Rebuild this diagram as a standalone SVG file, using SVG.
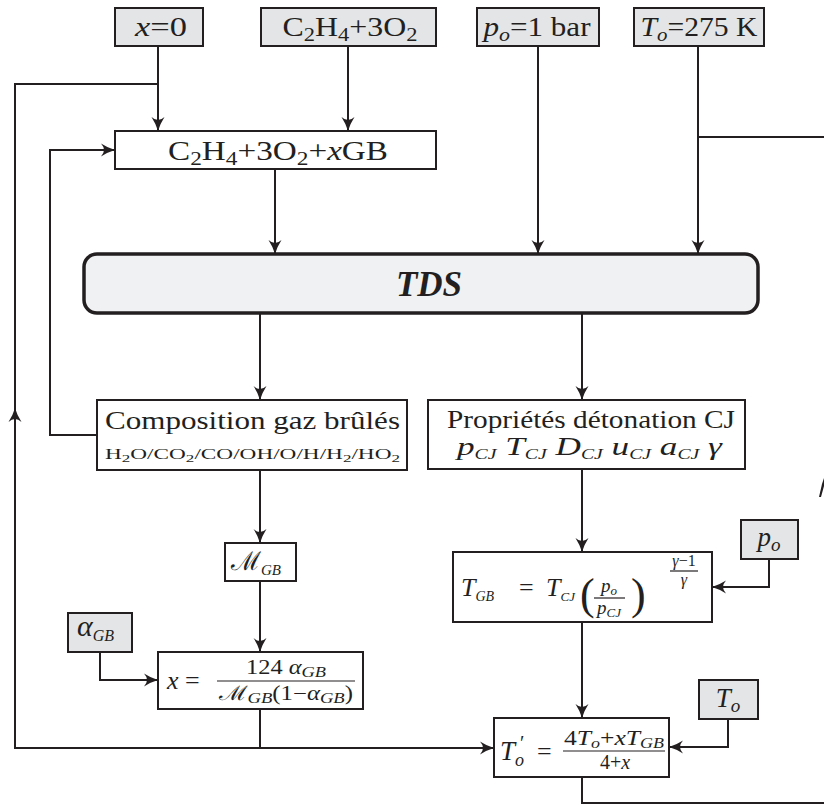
<svg xmlns="http://www.w3.org/2000/svg" width="824" height="809" viewBox="0 0 824 809" font-family="'Liberation Serif','DejaVu Serif',serif" font-size="26">
<style>
.box{fill:#ffffff;stroke:#231f20;stroke-width:2}
.in{fill:#e4e5e7;stroke:#231f20;stroke-width:2}
.tds{fill:#f0f1f2;stroke:#231f20;stroke-width:3.5}
.c{fill:none;stroke:#231f20;stroke-width:2}
.fl{stroke:#231f20;stroke-width:1.2}
text{fill:#231f20}
.i{font-style:italic}
.m{text-anchor:middle}
</style>
<defs>
<marker id="ah" viewBox="-16 -8 18 16" refX="0" refY="0" markerWidth="18" markerHeight="16" markerUnits="userSpaceOnUse" orient="auto">
<path d="M0,0 Q-7,-2 -14,-6.5 Q-8,0 -14,6.5 Q-7,2 0,0 Z" fill="#231f20"/>
</marker>
</defs>
<g id="connectors">
<path class="c" d="M158,46 V131" marker-end="url(#ah)"/>
<path class="c" d="M158,84 H15 V748 H494" marker-end="url(#ah)"/>
<path class="c" d="M15,440 V408" marker-end="url(#ah)"/>
<path class="c" d="M348,46 V131" marker-end="url(#ah)"/>
<path class="c" d="M275,169 V254" marker-end="url(#ah)"/>
<path class="c" d="M538,46 V254" marker-end="url(#ah)"/>
<path class="c" d="M698,46 V254" marker-end="url(#ah)"/>
<path class="c" d="M698,137 H824"/>
<path class="c" d="M260,313 V400" marker-end="url(#ah)"/>
<path class="c" d="M582,313 V400" marker-end="url(#ah)"/>
<path class="c" d="M97,435 H50 V150 H115" marker-end="url(#ah)"/>
<path class="c" d="M260,470 V543" marker-end="url(#ah)"/>
<path class="c" d="M260,581 V652" marker-end="url(#ah)"/>
<path class="c" d="M100,652 V680 H158" marker-end="url(#ah)"/>
<path class="c" d="M260,709 V748"/>
<path class="c" d="M582,469 V552" marker-end="url(#ah)"/>
<path class="c" d="M769,559 V587 H712" marker-end="url(#ah)"/>
<path class="c" d="M582,622 V718" marker-end="url(#ah)"/>
<path class="c" d="M728,719 V747 H669" marker-end="url(#ah)"/>
<path class="c" d="M582,777 V803 H824"/>
<path d="M819,497 L822,484 L824,478 L824,486 L821,497 Z" fill="#231f20"/>
</g>
<g id="in-x0">
<rect class="in" x="115" y="8" width="88" height="38"/>
<text class="m" x="161" y="36" font-size="27" textLength="52" lengthAdjust="spacingAndGlyphs"><tspan class="i">x</tspan>=0</text>
</g>
<g id="in-fuel">
<rect class="in" x="261" y="8" width="175" height="38"/>
<text class="m" x="350" y="36" font-size="27" textLength="135" lengthAdjust="spacingAndGlyphs">C<tspan font-size="19" dy="5">2</tspan><tspan dy="-5">H</tspan><tspan font-size="19" dy="5">4</tspan><tspan dy="-5">+3O</tspan><tspan font-size="19" dy="5">2</tspan></text>
</g>
<g id="in-po">
<rect class="in" x="477" y="8" width="122" height="38"/>
<text class="m" x="537" y="36" font-size="27" textLength="107" lengthAdjust="spacingAndGlyphs"><tspan class="i">p</tspan><tspan class="i" font-size="19" dy="5">o</tspan><tspan dy="-5">=1 bar</tspan></text>
</g>
<g id="in-To">
<rect class="in" x="634" y="8" width="130" height="38"/>
<text class="m" x="699" y="36" font-size="27" textLength="117" lengthAdjust="spacingAndGlyphs"><tspan class="i">T</tspan><tspan class="i" font-size="19" dy="5">o</tspan><tspan dy="-5">=275 K</tspan></text>
</g>
<g id="mix">
<rect class="box" x="115" y="131" width="321" height="38"/>
<text class="m" x="278" y="160" font-size="27" textLength="220" lengthAdjust="spacingAndGlyphs">C<tspan font-size="19" dy="5">2</tspan><tspan dy="-5">H</tspan><tspan font-size="19" dy="5">4</tspan><tspan dy="-5">+3O</tspan><tspan font-size="19" dy="5">2</tspan><tspan dy="-5">+</tspan><tspan class="i">x</tspan>GB</text>
</g>
<g id="tds">
<rect class="tds" x="84" y="254" width="674" height="59" rx="13" ry="13"/>
<text class="m" x="429" y="296" font-size="35" font-weight="bold" font-style="italic">TDS</text>
</g>
<g id="composition">
<rect class="box" x="97" y="400" width="310" height="70"/>
<text x="105" y="429" textLength="295" lengthAdjust="spacingAndGlyphs">Composition gaz brûlés</text>
<text x="105" y="459" font-size="15" textLength="295" lengthAdjust="spacingAndGlyphs">H<tspan font-size="11" dy="3">2</tspan><tspan dy="-3">O/CO</tspan><tspan font-size="11" dy="3">2</tspan><tspan dy="-3">/CO/OH/O/H/H</tspan><tspan font-size="11" dy="3">2</tspan><tspan dy="-3">/HO</tspan><tspan font-size="11" dy="3">2</tspan></text>
</g>
<g id="properties">
<rect class="box" x="428" y="400" width="317" height="69"/>
<text x="447" y="428" textLength="288" lengthAdjust="spacingAndGlyphs">Propriétés détonation CJ</text>
<text x="457" y="455" class="i" font-size="25" textLength="265" lengthAdjust="spacingAndGlyphs">p<tspan font-size="14" dy="4">CJ</tspan><tspan dy="-4"> T</tspan><tspan font-size="14" dy="4">CJ</tspan><tspan dy="-4"> D</tspan><tspan font-size="14" dy="4">CJ</tspan><tspan dy="-4"> u</tspan><tspan font-size="14" dy="4">CJ</tspan><tspan dy="-4"> a</tspan><tspan font-size="14" dy="4">CJ</tspan><tspan dy="-4"> γ</tspan></text>
</g>
<g id="mgb">
<rect class="box" x="225" y="543" width="71" height="38"/>
<text x="231" y="570" font-family="'DejaVu Serif',serif" font-size="26">ℳ<tspan class="i" font-size="15" dy="5" font-family="'Liberation Serif',serif">GB</tspan></text>
</g>
<g id="alpha">
<rect class="in" x="68" y="613" width="64" height="39"/>
<text x="77" y="636" class="i" font-size="30">α<tspan font-size="16" dy="5">GB</tspan></text>
</g>
<g id="xcalc">
<rect class="box" x="158" y="652" width="205" height="57"/>
<text x="167" y="689"><tspan class="i">x</tspan> =</text>
<text class="m" x="286" y="674" font-size="20" textLength="80" lengthAdjust="spacingAndGlyphs">124 <tspan class="i">α</tspan><tspan class="i" font-size="15" dy="3">GB</tspan></text>
<line class="fl" x1="217" y1="681" x2="355" y2="681"/>
<text class="m" x="286" y="700" font-size="20" textLength="134" lengthAdjust="spacingAndGlyphs"><tspan font-family="'DejaVu Serif',serif">ℳ</tspan><tspan class="i" font-size="15" dy="3">GB</tspan><tspan dy="-3">(1−</tspan><tspan class="i">α</tspan><tspan class="i" font-size="15" dy="3">GB</tspan><tspan dy="-3">)</tspan></text>
</g>
<g id="tgb">
<rect class="box" x="453" y="552" width="259" height="70"/>
<text x="461" y="596" class="i">T<tspan font-size="14" dy="5">GB</tspan></text>
<text x="519" y="596">=</text>
<text x="546" y="596" class="i">T<tspan font-size="13" dy="5">CJ</tspan></text>
<text x="580" y="609" font-size="44">(</text>
<text class="m i" x="609" y="592" font-size="19">p<tspan font-size="13" dy="3">o</tspan></text>
<line class="fl" x1="594" y1="598" x2="625" y2="598"/>
<text class="m i" x="609" y="614" font-size="19">p<tspan font-size="13" dy="3">CJ</tspan></text>
<text x="631" y="609" font-size="44">)</text>
<text class="m i" x="684" y="566" font-size="16">γ<tspan font-style="normal">−1</tspan></text>
<line class="fl" x1="670" y1="571" x2="698" y2="571"/>
<text class="m i" x="684" y="585" font-size="16">γ</text>
</g>
<g id="in-po2">
<rect class="in" x="741" y="520" width="57" height="39"/>
<text class="m i" x="769" y="546" font-size="27">p<tspan font-size="19" dy="5">o</tspan></text>
</g>
<g id="tprime">
<rect class="box" x="494" y="718" width="175" height="59"/>
<text x="500" y="760" class="i" font-size="27">T</text>
<text x="520" y="750" font-size="20">′</text>
<text x="515" y="766" class="i" font-size="18">o</text>
<text x="537" y="760">=</text>
<text class="m" x="614" y="745" font-size="20" textLength="100" lengthAdjust="spacingAndGlyphs">4<tspan class="i">T</tspan><tspan class="i" font-size="14" dy="3">o</tspan><tspan dy="-3">+</tspan><tspan class="i">xT</tspan><tspan class="i" font-size="14" dy="3">GB</tspan></text>
<line class="fl" x1="563" y1="751" x2="665" y2="751"/>
<text class="m" x="615" y="769" font-size="20">4+<tspan class="i">x</tspan></text>
</g>
<g id="in-To2">
<rect class="in" x="699" y="680" width="59" height="39"/>
<text class="m i" x="728" y="707" font-size="27">T<tspan font-size="19" dy="5">o</tspan></text>
</g>
</svg>
